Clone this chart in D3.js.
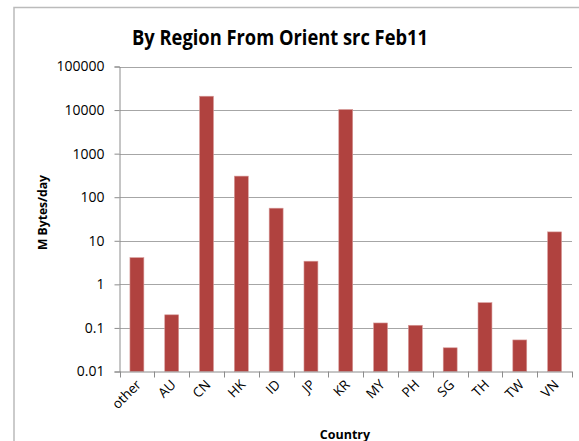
<!DOCTYPE html>
<html><head><meta charset="utf-8">
<script src="https://cdn.jsdelivr.net/npm/d3@7"></script>
<style>body{margin:0;background:#fff}svg{display:block}text{font-family:"Open Sans",Calibri,sans-serif}</style>
</head><body>
<svg id="c" width="579" height="441"></svg>
<script>
const countries = ["other","AU","CN","HK","ID","JP","KR","MY","PH","SG","TH","TW","VN"];
const mbytesPerDay = [4.1,0.2,20800,305,56,3.4,10300,0.13,0.115,0.035,0.38,0.053,16];
const yTicks = [0.01,0.1,1,10,100,1000,10000,100000];
const yTickLabels = ["0.01","0.1","1","10","100","1000","10000","100000"];
const title = "By Region From Orient src Feb11";
const xTitle = "Country", yTitle = "M Bytes/day";

const svg = d3.select("#c");
const m = {l:119.5, r:572, t:66.5, b:371.5};

svg.append("rect").attr("x",14).attr("y",7.5).attr("width",600).attr("height",500)
  .attr("fill","none").attr("stroke","#bbb").attr("stroke-width",1.5);

const x = d3.scaleBand().domain(countries).range([m.l,m.r]).paddingInner(0.6).paddingOuter(0.3);
const xb = d3.scaleBand().domain(countries).range([m.l,m.r]);
const y = d3.scaleLog().domain([0.01,100000]).range([m.b,m.t]);

// gridlines
svg.append("g").selectAll("line").data(yTicks.slice(1)).join("line")
  .attr("x1",m.l).attr("x2",m.r).attr("y1",d=>Math.round(y(d))+0.5).attr("y2",d=>Math.round(y(d))+0.5)
  .attr("stroke","#a6a6a6").attr("stroke-width",1);

// bars
svg.append("g").selectAll("rect").data(countries).join("rect")
  .attr("x",d=>x(d)).attr("width",x.bandwidth())
  .attr("y",(d,i)=>y(mbytesPerDay[i])).attr("height",(d,i)=>m.b-y(mbytesPerDay[i]))
  .attr("fill","#b0423f").attr("stroke","#d79a98").attr("stroke-width",0.6);

// y axis
const ya = d3.axisLeft(y).tickValues(yTicks).tickFormat((d,i)=>yTickLabels[i]).tickSize(5).tickPadding(10);
const gy = svg.append("g").attr("transform",`translate(${m.l},0)`).call(ya);
gy.select(".domain").attr("stroke","#8c8c8c");
gy.selectAll(".tick line").attr("stroke","#8c8c8c");
gy.selectAll(".tick text").attr("font-size",14).attr("fill","#000").attr("font-family","'Open Sans',sans-serif");

// x axis
svg.append("line").attr("x1",m.l).attr("x2",m.r).attr("y1",m.b+0.5).attr("y2",m.b+0.5).attr("stroke","#8c8c8c");
const bounds = countries.map(c=>xb(c)).concat([m.r]);
svg.append("g").selectAll("line").data(bounds).join("line")
  .attr("x1",d=>Math.round(d)+0.5).attr("x2",d=>Math.round(d)+0.5).attr("y1",m.b).attr("y2",m.b+6)
  .attr("stroke","#8c8c8c");
svg.append("g").selectAll("text").data(countries).join("text")
  .attr("transform",d=>`translate(${xb(d)+xb.bandwidth()/2+5},${m.b+14}) rotate(-45)`)
  .attr("text-anchor","end").attr("font-size",13.5).attr("fill","#000").text(d=>d);

// titles
svg.append("text").attr("x",280).attr("y",44.5).attr("text-anchor","middle")
  .attr("font-size",21).attr("font-weight","bold").attr("textLength",296).attr("lengthAdjust","spacingAndGlyphs").text(title);
svg.append("text").attr("x",345).attr("y",438.5).attr("text-anchor","middle")
  .attr("font-size",12.5).attr("font-weight","bold").text(xTitle);
svg.append("text").attr("transform","translate(47,212.5) rotate(-90)").attr("text-anchor","middle")
  .attr("font-size",12).attr("font-weight","bold").attr("textLength",75).attr("lengthAdjust","spacingAndGlyphs").text(yTitle);
</script>
</body></html>
